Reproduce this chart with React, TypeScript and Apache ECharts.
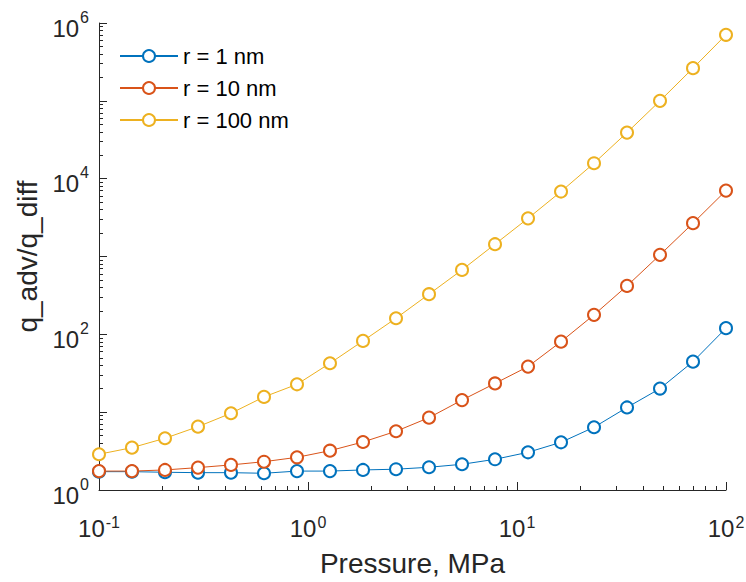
import React, { useEffect, useRef } from "react";
import * as echarts from "echarts";

const pressure = [0.1, 0.1438, 0.2069, 0.2976, 0.4281, 0.6158, 0.8859, 1.274, 1.833, 2.637, 3.793, 5.456, 7.848, 11.29, 16.24, 23.36, 33.6, 48.33, 69.52, 100];
const r1nm = [1.72, 1.72, 1.69, 1.67, 1.67, 1.64, 1.75, 1.75, 1.81, 1.85, 1.96, 2.14, 2.48, 3.05, 4.1, 6.4, 11.5, 20.1, 44.6, 120];
const r10nm = [1.75, 1.75, 1.81, 1.94, 2.1, 2.31, 2.63, 3.2, 4.14, 5.68, 8.5, 14.3, 23.4, 38.5, 80.5, 178, 419, 1050, 2680, 7030];
const r100nm = [2.88, 3.5, 4.62, 6.51, 9.68, 15.7, 22.8, 42.5, 82.3, 161, 328, 673, 1439, 3090, 6830, 15800, 39100, 100000, 263000, 705000];
const seriesNames = ["r = 1 nm", "r = 10 nm", "r = 100 nm"];
const seriesColors = ["#0072BD", "#D95319", "#EDB120"];

const xMin = 0.1;
const xMax = 100;
const yMin = 1;
const yMax = 1e6;
const xMajorTicks = [0.1, 1, 10, 100];
const yMajorTicks = [1, 10, 100, 1000, 10000, 100000, 1000000];
const xLabelTicks = [0.1, 1, 10, 100];
const yLabelTicks = [1, 100, 10000, 1000000];
const xMinorTicks = [0.2, 0.3, 0.4, 0.5, 0.6, 0.7, 0.8, 0.9, 2, 3, 4, 5, 6, 7, 8, 9, 20, 30, 40, 50, 60, 70, 80, 90];
const yMinorTicks = [
  2, 3, 4, 5, 6, 7, 8, 9,
  20, 30, 40, 50, 60, 70, 80, 90,
  200, 300, 400, 500, 600, 700, 800, 900,
  2000, 3000, 4000, 5000, 6000, 7000, 8000, 9000,
  20000, 30000, 40000, 50000, 60000, 70000, 80000, 90000,
  200000, 300000, 400000, 500000, 600000, 700000, 800000, 900000,
];

const AXIS = "#262626";
const FONT = "'Liberation Sans', Arial, Helvetica, sans-serif";

export default function App() {
  const ref = useRef<HTMLDivElement>(null);
  useEffect(() => {
    document.body.style.margin = "0";
    if (!ref.current) return;
    const chart = echarts.init(ref.current, null, { renderer: "svg" });
    const expLabel = (v: number) => {
      const e = Math.round(Math.log10(v));
      return `{a|10}{b|${e}}`;
    };
    const rich = {
      a: { fontSize: 24, lineHeight: 28, color: AXIS, fontFamily: FONT },
      b: { fontSize: 16, lineHeight: 16, verticalAlign: "top", color: AXIS, fontFamily: FONT, padding: [0, 0, 0, 1] },
    };
    const richY = {
      a: { fontSize: 24, lineHeight: 28, color: AXIS, fontFamily: FONT, padding: [10, 0, 0, 0] },
      b: { fontSize: 16, lineHeight: 16, verticalAlign: "top", color: AXIS, fontFamily: FONT, padding: [0, 0, 0, 1] },
    };
    const dataSets = [r1nm, r10nm, r100nm];
    const lineSeries = dataSets.map((arr, i) => ({
      name: seriesNames[i],
      type: "line",
      xAxisIndex: 0,
      yAxisIndex: 0,
      data: pressure.map((p, j) => [p, arr[j]]),
      symbol: "emptyCircle",
      symbolSize: 12,
      color: seriesColors[i],
      lineStyle: { width: 1, color: seriesColors[i] },
      itemStyle: { color: seriesColors[i], borderColor: seriesColors[i], borderWidth: 1 },
      z: 3 + i,
    }));
    const minorAxisCommon = {
      type: "log",
      logBase: 10,
      axisLine: { show: false },
      axisLabel: { show: false },
      splitLine: { show: false },
      minorTick: { show: false },
    };
    chart.setOption({
      animation: false,
      backgroundColor: "#ffffff",
      textStyle: { fontFamily: FONT },
      grid: { left: 99, top: 23, width: 627, height: 467, containLabel: false, outerBoundsMode: "none" },
      legend: {
        data: seriesNames,
        orient: "vertical",
        left: 119,
        top: 45,
        padding: 0,
        itemWidth: 58,
        itemHeight: 15,
        itemGap: 10,
        textStyle: { fontSize: 22, lineHeight: 22, color: "#000000", fontFamily: FONT },
        selectedMode: false,
      },
      xAxis: [
        {
          type: "log",
          logBase: 10,
          min: xMin,
          max: xMax,
          position: "bottom",
          name: "Pressure, MPa",
          nameLocation: "middle",
          nameGap: 59,
          nameTextStyle: { fontSize: 28, color: AXIS, fontFamily: FONT },
          axisLine: { show: true, onZero: false, lineStyle: { color: AXIS, width: 1 } },
          axisTick: { show: true, inside: true, length: 8, customValues: xMajorTicks, lineStyle: { color: AXIS, width: 1 } },
          axisLabel: { formatter: expLabel, rich, margin: 24, customValues: xLabelTicks, showMinLabel: true, showMaxLabel: true, hideOverlap: false },
          splitLine: { show: false },
          minorTick: { show: false },
        },
        {
          ...minorAxisCommon,
          min: xMin,
          max: xMax,
          position: "bottom",
          axisTick: { show: true, inside: true, length: 4, customValues: xMinorTicks, lineStyle: { color: AXIS, width: 1 } },
        },
      ],
      yAxis: [
        {
          type: "log",
          logBase: 10,
          min: yMin,
          max: yMax,
          position: "left",
          name: "q_adv/q_diff",
          nameLocation: "middle",
          nameGap: 48,
          nameTextStyle: { fontSize: 28, color: AXIS, fontFamily: FONT },
          axisLine: { show: true, onZero: false, lineStyle: { color: AXIS, width: 1 } },
          axisTick: { show: true, inside: true, length: 8, customValues: yMajorTicks, lineStyle: { color: AXIS, width: 1 } },
          axisLabel: {
            formatter: expLabel,
            rich: richY,
            margin: 10,
            customValues: yLabelTicks,
            showMinLabel: true,
            showMaxLabel: true,
            hideOverlap: false,
          },
          splitLine: { show: false },
          minorTick: { show: false },
        },
        {
          ...minorAxisCommon,
          min: yMin,
          max: yMax,
          position: "left",
          axisTick: { show: true, inside: true, length: 4, customValues: yMinorTicks, lineStyle: { color: AXIS, width: 1 } },
        },
      ],
      series: lineSeries,
    });
    return () => chart.dispose();
  }, []);
  return <div ref={ref} style={{ width: 746, height: 582 }} />;
}
